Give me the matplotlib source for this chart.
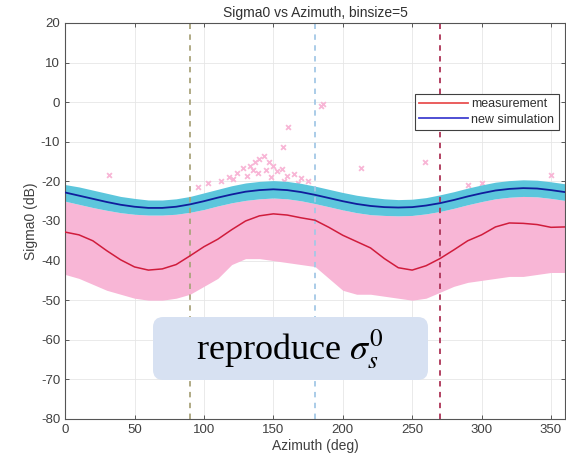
import matplotlib
matplotlib.use("Agg")
import matplotlib.pyplot as plt
from matplotlib.patches import FancyBboxPatch
from matplotlib.lines import Line2D

plt.rcParams['font.family'] = ['Liberation Sans', 'DejaVu Sans']
plt.rcParams['mathtext.fontset'] = 'stix'
plt.rcParams['axes.unicode_minus'] = False

azimuth = list(range(0, 361, 10))
measurement = [-32.8, -33.5, -35.0, -37.5, -39.8, -41.6, -42.4, -42.1, -41.0, -38.8,
               -36.5, -34.6, -32.2, -30.0, -28.7, -28.2, -28.5, -29.2, -29.8, -31.6,
               -33.6, -35.2, -36.8, -39.5, -41.8, -42.4, -41.3, -39.5, -37.3, -35.0,
               -33.5, -31.5, -30.5, -30.6, -30.9, -31.6, -31.5]
simulation = [-22.8, -23.6, -24.4, -25.2, -25.9, -26.4, -26.7, -26.7, -26.4, -25.8,
              -25.0, -24.1, -23.3, -22.6, -22.2, -22.0, -22.2, -22.7, -23.4, -24.2,
              -25.0, -25.7, -26.2, -26.5, -26.6, -26.5, -26.1, -25.5, -24.7, -23.8,
              -23.0, -22.3, -21.9, -21.7, -21.8, -22.2, -22.7]
sim_upper = [-20.8, -21.4, -22.2, -23.0, -23.8, -24.3, -24.7, -24.7, -24.4, -23.8,
             -22.9, -22.0, -21.1, -20.4, -20.0, -19.8, -20.0, -20.5, -21.2, -22.0,
             -22.8, -23.5, -24.0, -24.4, -24.6, -24.5, -24.1, -23.4, -22.6, -21.7,
             -20.9, -20.2, -19.8, -19.6, -19.7, -20.1, -20.6]
sim_lower = [-25.0, -25.8, -26.6, -27.3, -27.9, -28.3, -28.5, -28.5, -28.3, -27.8,
             -27.1, -26.2, -25.4, -24.8, -24.4, -24.2, -24.4, -24.9, -25.6, -26.4,
             -27.2, -27.9, -28.4, -28.6, -28.7, -28.6, -28.2, -27.6, -26.8, -25.9,
             -25.1, -24.4, -24.0, -23.8, -23.9, -24.3, -24.8]
cloud_lower = [-43.5, -44.5, -46.0, -47.5, -48.5, -49.5, -50.0, -50.0, -49.5, -48.5,
               -46.5, -44.5, -41.0, -39.5, -39.5, -40.0, -40.5, -41.0, -41.5, -44.5,
               -47.5, -48.5, -48.5, -49.0, -49.5, -50.0, -49.5, -48.0, -46.5, -45.5,
               -45.0, -44.5, -44.0, -44.0, -43.5, -43.0, -43.0]
outlier_az = [184.6, 186.0, 160.4, 157.0, 213.0, 259.0, 31.6, 350.0,
              118, 124, 128, 133, 137, 140, 143, 147, 150, 153, 156, 160, 165, 170,
              121, 131, 145, 139, 112, 135, 148, 158, 168, 175, 96, 103, 290, 300]
outlier_val = [-1.0, -0.5, -6.3, -11.2, -16.7, -15.2, -18.4, -18.4,
               -19.0, -17.8, -16.5, -16.0, -15.2, -14.3, -13.5, -15.0, -16.2, -17.5,
               -16.8, -18.6, -18.2, -19.2, -19.5, -18.6, -17.2, -18.0, -20.0, -17.0,
               -19.0, -20.0, -20.5, -20.0, -21.5, -20.5, -21.0, -20.5]

fig = plt.figure(figsize=(5.66, 4.72), dpi=100)
ax = fig.add_axes([0.115, 0.1123, 0.883, 0.839])

pink = '#f8b6d6'
ax.fill_between(azimuth, cloud_lower, sim_lower, color=pink, lw=0, zorder=1)
ax.scatter(outlier_az, outlier_val, marker='x', s=12, color=pink, lw=1.3, zorder=1)
ax.fill_between(azimuth, sim_lower, sim_upper, color='#5cc6dc', lw=0, zorder=2)
ax.plot(azimuth, measurement, color='#d01c3c', lw=1.1, zorder=3)
ax.plot(azimuth, simulation, color='#101e9c', lw=1.3, zorder=3)

ax.axvline(90, color='#aaa47c', ls=(0, (3, 3)), lw=1.3, zorder=2.5)
ax.axvline(180, color='#a4c8e6', ls=(0, (3, 3)), lw=1.3, zorder=2.5)
ax.axvline(270, color='#ac3356', ls=(0, (3, 3)), lw=1.3, zorder=2.5)

ax.set_xlim(0, 360)
ax.set_ylim(-80, 20)
ax.set_xticks(range(0, 351, 50))
ax.set_yticks(range(-80, 21, 10))
ax.grid(True, color='#e6e6e6', lw=0.6)
ax.set_axisbelow(True)
ax.tick_params(direction='in', top=True, right=True, labelsize=9.5,
               colors='#404040', length=3, width=0.6)
for s in ax.spines.values():
    s.set_color('#555555')
    s.set_linewidth(0.8)

ax.set_title('Sigma0 vs Azimuth, binsize=5', fontsize=10, color='#303030', pad=4)
ax.set_xlabel('Azimuth (deg)', fontsize=10, color='#404040', labelpad=2)
ax.set_ylabel('Sigma0 (dB)', fontsize=10, color='#404040', labelpad=2)

handles = [Line2D([], [], color='#e85050', lw=1.3), Line2D([], [], color='#4040d0', lw=1.3)]
leg = ax.legend(handles, ['measurement', 'new simulation'], loc='upper right',
                bbox_to_anchor=(0.993, 0.828), fontsize=9, fancybox=False,
                framealpha=1, edgecolor='#404040', handlelength=3.9,
                borderpad=0.35, labelspacing=0.3, handletextpad=0.3,
                borderaxespad=0.2)
leg.get_frame().set_linewidth(0.8)
for t in leg.get_texts():
    t.set_color('#303030')

W, H = 566.0, 472.0
box = FancyBboxPatch((153 / W, 1 - 380 / H), 275 / W, 63 / H,
                     boxstyle='round,pad=0,rounding_size=0.018',
                     transform=fig.transFigure, fc='#d7e1f2', ec='none',
                     mutation_aspect=W / H, zorder=5)
fig.patches.append(box)
fig.text(290 / W, 1 - 349 / H, r'reproduce $\sigma_s^0$', fontsize=26,
         family='Liberation Serif', ha='center', va='center', color='black', zorder=6)

fig.savefig('out.png', dpi=100)
